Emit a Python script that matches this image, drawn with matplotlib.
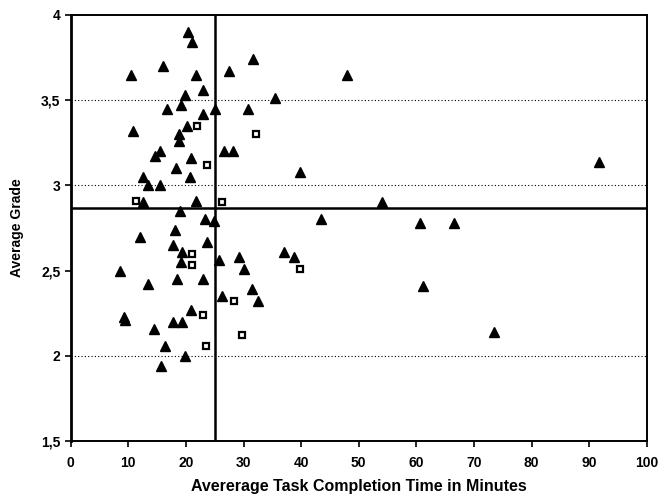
import matplotlib
matplotlib.use("Agg")
import matplotlib.pyplot as plt

plt.rcParams['font.family'] = ['Liberation Sans', 'DejaVu Sans']

# triangles: filled black
tri_x = [20.4, 21.1, 31.7, 10.5, 16.1, 21.8, 27.5, 22.9, 19.8, 19.2,
         16.8, 22.9, 25.1, 30.8, 20.2, 10.9, 18.8, 48.0, 35.5, 28.1,
         39.8, 54.0, 43.4, 60.6, 29.2, 37.1, 38.8, 30.1, 61.1, 31.5,
         32.5, 91.8, 66.6, 73.5, 18.8, 15.5, 14.6, 20.8, 26.6, 18.3,
         12.5, 20.7, 13.5, 15.5, 12.6, 21.7, 18.9, 23.3, 24.8, 18.1,
         12.0, 23.6, 17.8, 19.4, 19.1, 25.8, 8.6, 13.5, 18.5, 22.9,
         26.3, 20.8, 9.3, 9.4, 17.8, 19.4, 14.5, 16.3, 19.8, 15.7]
tri_y = [3.90, 3.84, 3.74, 3.65, 3.70, 3.65, 3.67, 3.56, 3.53, 3.47,
         3.45, 3.42, 3.45, 3.45, 3.35, 3.32, 3.30, 3.65, 3.51, 3.20,
         3.08, 2.90, 2.80, 2.78, 2.58, 2.61, 2.58, 2.51, 2.41, 2.39,
         2.32, 3.14, 2.78, 2.14, 3.26, 3.20, 3.17, 3.16, 3.20, 3.10,
         3.05, 3.05, 3.00, 3.00, 2.90, 2.91, 2.85, 2.80, 2.79, 2.74,
         2.70, 2.67, 2.65, 2.61, 2.55, 2.56, 2.50, 2.42, 2.45, 2.45,
         2.35, 2.27, 2.23, 2.21, 2.20, 2.20, 2.16, 2.06, 2.00, 1.94]

# open squares
sq_x = [22.0, 32.1, 39.8, 28.4, 29.8, 23.6, 11.3, 26.3, 21.1, 21.1, 23.0, 23.5]
sq_y = [3.35, 3.30, 2.51, 2.32, 2.12, 3.12, 2.91, 2.90, 2.60, 2.53, 2.24, 2.06]

# reference lines
time_cut = 25
grade_mean = 2.87

x_ticks = [0, 10, 20, 30, 40, 50, 60, 70, 80, 90, 100]
y_ticks = [1.5, 2, 2.5, 3, 3.5, 4]
y_labels = ["1,5", "2", "2,5", "3", "3,5", "4"]
grid_levels = [2, 3, 3.5]

fig = plt.figure(figsize=(6.67, 4.98), dpi=100)
ax = fig.add_axes([0.106, 0.1145, 0.8636, 0.8554])

for g in grid_levels:
    ax.axhline(g, color='black', linestyle=(0, (1, 2)), linewidth=0.8, zorder=1)

ax.axvline(time_cut, color='black', linewidth=1.8, zorder=2)
ax.axhline(grade_mean, color='black', linewidth=1.8, zorder=2)

ax.plot(tri_x, tri_y, linestyle='none', marker='^', markersize=7,
        color='black', zorder=3)
ax.plot(sq_x, sq_y, linestyle='none', marker='s', markersize=5,
        markerfacecolor='white', markeredgecolor='black',
        markeredgewidth=1.6, zorder=3)

ax.set_xlim(0, 100)
ax.set_ylim(1.5, 4)
ax.set_xticks(x_ticks)
ax.set_xticklabels([str(t) for t in x_ticks], fontsize=10, fontweight='bold')
ax.set_yticks(y_ticks)
ax.set_yticklabels(y_labels, fontsize=10, fontweight='bold')
ax.tick_params(axis='both', direction='out', length=4, width=1.2, color='black')
ax.tick_params(axis='x', pad=7)

for s in ax.spines.values():
    s.set_color('black')
    s.set_linewidth(1.4)
ax.spines['left'].set_linewidth(2)

ax.set_xlabel("Avererage Task Completion Time in Minutes", fontsize=11.5,
              fontweight='bold', labelpad=6)
ax.set_ylabel("Average Grade", fontsize=10, fontweight='bold', labelpad=12)

fig.savefig("out.png", dpi=100)
